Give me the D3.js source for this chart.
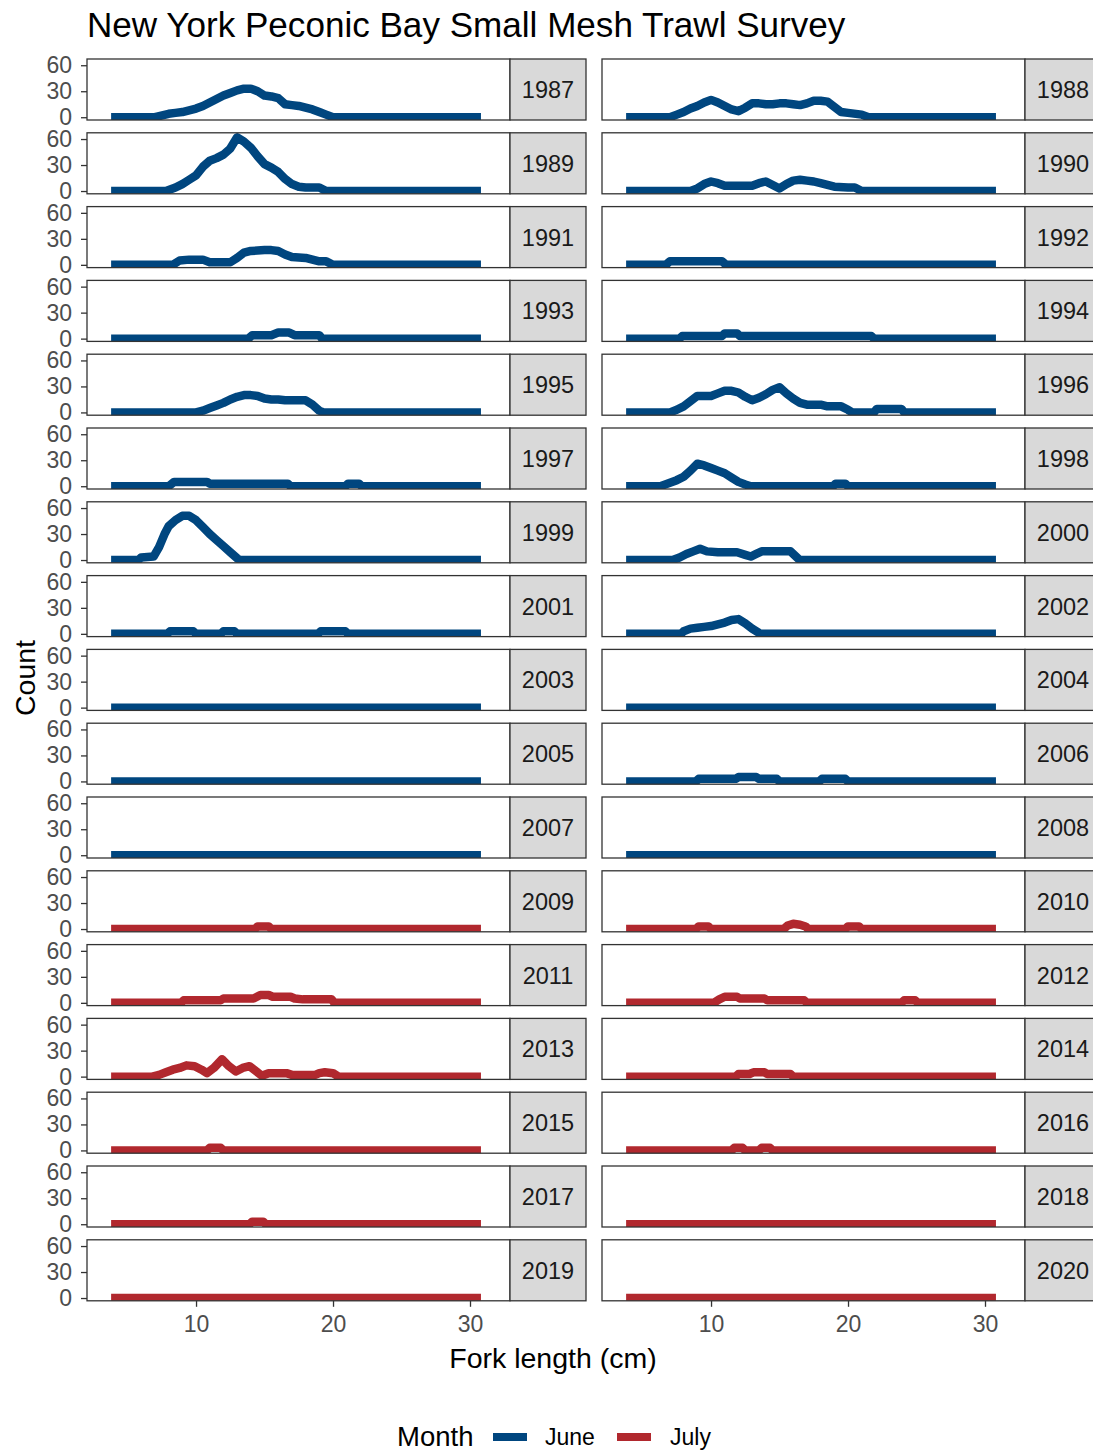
<!DOCTYPE html>
<html><head><meta charset="utf-8">
<script src="https://cdn.jsdelivr.net/npm/d3@7"></script>
<style>body{margin:0;background:#fff}svg{display:block}</style>
</head><body>
<svg id="chart" width="1093" height="1452"></svg>
<script>
// ---------- data ----------
const years = [1987,1988,1989,1990,1991,1992,1993,1994,1995,1996,1997,1998,1999,2000,2001,2002,2003,2004,2005,2006,2007,2008,2009,2010,2011,2012,2013,2014,2015,2016,2017,2018,2019,2020];
const yearMonth = ["June","June","June","June","June","June","June","June","June","June","June","June","June","June","June","June","June","June","June","June","June","June","July","July","July","July","July","July","July","July","July","July","July","July"];
const monthNames = ["June","July"];
const monthColors = ["#00467F","#B1282E"];
const xTickValues = [10,20,30];
const yTickValues = [0,30,60];

// [fork length (cm), count]
const c1987 = [[3.8,0],[7,0],[8,4],[8.5,5],[9,6],[9.5,8],[10,10],[10.5,13],[11,17],[11.5,21],[12,25],[12.5,28],[13,31],[13.5,33],[14,33],[14.5,30],[15,25],[15.5,24],[16,22],[16.5,15],[17,14],[17.5,13],[18,11],[18.5,9],[19,6],[19.5,3],[20,0],[30.8,0]];
const c1988 = [[3.8,0],[7,0],[7.5,3],[8,6],[8.5,10],[9,13],[9.5,17],[10,20],[10.5,17],[11,13],[11.5,9],[12,7],[12.5,11],[13,16],[13.5,16],[14,15],[14.5,15],[15,16],[15.5,16],[16,15],[16.5,14],[17,16],[17.5,19],[18,19],[18.5,18],[19,12],[19.5,6],[20,5],[21,3],[21.5,0],[30.8,0]];
const c1989 = [[3.8,0],[7.8,0],[8.5,4],[9,8],[9.5,13],[10,18],[10.5,28],[11,35],[11.5,38],[12,42],[12.5,49],[13,62],[13.5,57],[14,50],[14.5,40],[15,31],[15.5,27],[16,22],[16.5,14],[17,8],[17.5,5],[18,4],[19,4],[19.5,0],[30.8,0]];
const c1990 = [[3.8,0],[8.5,0],[9,3],[9.5,8],[10,11],[10.5,9],[11,6],[12,6],[13,6],[13.5,9],[14,11],[14.5,7],[15,3],[15.5,8],[16,12],[16.5,13],[17,12],[17.5,11],[18,9],[18.5,7],[19,5],[20,4],[20.5,4],[21,0],[30.8,0]];
const c1991 = [[3.8,0],[8.3,0],[8.8,5],[9.5,6],[10.5,6],[11,3],[12.5,3],[13,8],[13.5,14],[14,16],[15,17],[15.5,17],[16,16],[16.5,12],[17,9],[18,8],[18.5,6],[19,4],[19.5,4],[20,0],[30.8,0]];
const c1992 = [[3.8,0],[6.7,0],[7,4],[10.8,4],[11.1,0],[30.8,0]];
const c1993 = [[3.8,0],[13.8,0],[14.1,4],[15.5,4],[16,7],[16.8,7],[17.2,4],[19,4],[19.2,0],[30.8,0]];
const c1994 = [[3.8,0],[7.7,0],[7.9,3],[10.8,3],[11,6],[11.9,6],[12.1,3],[21.7,3],[21.9,0],[30.8,0]];
const c1995 = [[3.8,0],[10,0],[10.5,2],[11,5],[11.5,8],[12,11],[12.5,15],[13,18],[13.5,20],[14,20],[14.5,19],[15,16],[15.5,15],[16,15],[16.5,14],[17,14],[18,14],[18.5,9],[19,2],[19.3,0],[30.8,0]];
const c1996 = [[3.8,0],[7,0],[7.5,3],[8,7],[8.5,13],[9,19],[10,19],[10.5,22],[11,25],[11.5,25],[12,23],[12.5,18],[13,14],[13.5,17],[14,21],[14.5,26],[15,29],[15.5,22],[16,16],[16.5,11],[17,9],[18,9],[18.5,7],[19.5,7],[20,3],[20.3,0],[21.9,0],[22.1,4],[23.9,4],[24.1,0],[30.8,0]];
const c1997 = [[3.8,0],[8,0],[8.4,5],[10.8,5],[11,3],[16.7,3],[16.9,0],[20.9,0],[21.1,3],[21.9,3],[22.1,0],[30.8,0]];
const c1998 = [[3.8,0],[6.3,0],[7,4],[7.5,7],[8,11],[8.5,18],[9,26],[9.5,24],[10,21],[10.5,18],[11,15],[11.5,10],[12,5],[12.5,2],[12.9,0],[18.9,0],[19.1,3],[19.8,3],[20,0],[30.8,0]];
const c1999 = [[3.8,0],[5.8,0],[6,3],[6.9,4],[7.3,15],[7.7,30],[8,39],[8.5,46],[9,51],[9.5,51],[10,46],[10.5,38],[11,30],[11.5,23],[12,16],[12.5,9],[13,2],[13.2,0],[30.8,0]];
const c2000 = [[3.8,0],[7.2,0],[7.7,3],[8.2,7],[8.7,10],[9.2,13],[9.7,10],[10.5,9],[11.9,9],[12.5,6],[12.9,4],[13.3,7],[13.7,10],[15.8,10],[16.4,1],[16.5,0],[30.8,0]];
const c2001 = [[3.8,0],[7.9,0],[8.1,3],[9.8,3],[10,0],[11.8,0],[12,3],[12.8,3],[13,0],[18.9,0],[19.1,3],[20.9,3],[21.1,0],[30.8,0]];
const c2002 = [[3.8,0],[7.8,0],[8,3],[8.5,6],[9,7],[9.5,8],[10,9],[10.5,11],[11,13],[11.5,16],[12,17],[12.5,12],[13,6],[13.5,1],[13.7,0],[30.8,0]];
const c2003 = [[3.8,0],[30.8,0]];
const c2004 = [[3.8,0],[30.8,0]];
const c2005 = [[3.8,0],[30.8,0]];
const c2006 = [[3.8,0],[8.9,0],[9.1,3],[11.8,3],[12,5],[13.3,5],[13.5,3],[14.8,3],[15,0],[17.9,0],[18.1,3],[19.8,3],[20,0],[30.8,0]];
const c2007 = [[3.8,0],[30.8,0]];
const c2008 = [[3.8,0],[30.8,0]];
const c2009 = [[3.8,0],[14.3,0],[14.5,3],[15.3,3],[15.5,0],[30.8,0]];
const c2010 = [[3.8,0],[8.9,0],[9.1,3],[9.8,3],[10,0],[15.3,0],[15.6,4],[16,6],[16.5,5],[16.9,3],[17.1,0],[19.8,0],[20,3],[20.8,3],[21,0],[30.8,0]];
const c2011 = [[3.8,0],[8.9,0],[9.1,3],[11.8,3],[12,5],[14.2,5],[14.7,9],[15.3,9],[15.6,7],[16.9,7],[17.2,5],[17.8,4],[19.9,4],[20.1,0],[30.8,0]];
const c2012 = [[3.8,0],[10.2,0],[10.6,4],[11,7],[11.9,7],[12.1,5],[13.9,5],[14.1,3],[16.8,3],[17,0],[23.9,0],[24.1,3],[24.9,3],[25.1,0],[30.8,0]];
const c2013 = [[3.8,0],[6.8,0],[7.3,2],[7.8,5],[8.3,8],[8.8,10],[9.3,13],[9.9,12],[10.4,8],[10.8,4],[11.3,10],[11.9,20],[12.4,12],[12.9,6],[13.4,10],[13.9,12],[14.4,6],[14.8,1],[15.3,4],[16.6,4],[17,2],[18.7,2],[19,4],[19.4,5],[20,4],[20.4,0],[30.8,0]];
const c2014 = [[3.8,0],[11.8,0],[12,3],[12.8,3],[13.1,5],[13.9,5],[14.1,3],[15.8,3],[16,0],[30.8,0]];
const c2015 = [[3.8,0],[10.8,0],[11,3],[11.8,3],[12,0],[30.8,0]];
const c2016 = [[3.8,0],[11.5,0],[11.7,3],[12.3,3],[12.5,0],[13.5,0],[13.7,3],[14.3,3],[14.5,0],[30.8,0]];
const c2017 = [[3.8,0],[13.9,0],[14.1,3],[14.9,3],[15.1,0],[30.8,0]];
const c2018 = [[3.8,0],[30.8,0]];
const c2019 = [[3.8,0],[30.8,0]];
const c2020 = [[3.8,0],[30.8,0]];

const seriesList = [c1987,c1988,c1989,c1990,c1991,c1992,c1993,c1994,c1995,c1996,c1997,c1998,c1999,c2000,c2001,c2002,c2003,c2004,c2005,c2006,c2007,c2008,c2009,c2010,c2011,c2012,c2013,c2014,c2015,c2016,c2017,c2018,c2019,c2020];

// ---------- layout ----------
const FONT = "'Liberation Sans', Arial, sans-serif";
const svg = d3.select("#chart");
const colX = [87, 602];
const panelW = 423, stripW = 76, panelH = 61;
const rowTop0 = 59, rowPitch = 73.8;
const nRows = Math.ceil(years.length / 2);

const x = d3.scaleLinear().domain([2.04, 32.92]).range([0, panelW]);
const y = d3.scaleLinear().domain([-3.2, 67.2]).range([panelH, 0]);
const color = d3.scaleOrdinal().domain(monthNames).range(monthColors);
const line = d3.line().x(d => x(d[0])).y(d => y(d[1]));

svg.append("rect").attr("width",1093).attr("height",1452).attr("fill","#fff");

// title
svg.append("text").attr("x", 87).attr("y", 37)
  .attr("font-family", FONT).attr("font-size", 35.1).attr("fill", "#000")
  .text("New York Peconic Bay Small Mesh Trawl Survey");

const defs = svg.append("defs");

years.forEach((yr, i) => {
  const col = i % 2, row = Math.floor(i / 2);
  const px = colX[col], py = rowTop0 + row * rowPitch;
  const g = svg.append("g").attr("transform", `translate(${px},${py})`);
  const cid = "clip" + yr;
  defs.append("clipPath").attr("id", cid).append("rect")
    .attr("width", panelW).attr("height", panelH);
  g.append("rect").attr("width", panelW).attr("height", panelH).attr("fill", "#fff");
  g.append("g").attr("clip-path", `url(#${cid})`)
    .append("path").datum(seriesList[i])
    .attr("d", line).attr("fill", "none")
    .attr("stroke", color(yearMonth[i]))
    .attr("stroke-width", 8.5)
    .attr("stroke-linejoin", "round").attr("stroke-linecap", "butt");
  g.append("rect").attr("width", panelW).attr("height", panelH)
    .attr("fill", "none").attr("stroke", "#333").attr("stroke-width", 1.3);
  // strip
  const s = g.append("g").attr("transform", `translate(${panelW},0)`);
  s.append("rect").attr("width", stripW).attr("height", panelH)
    .attr("fill", "#D9D9D9").attr("stroke", "#333").attr("stroke-width", 1.3);
  s.append("text").attr("x", stripW/2).attr("y", panelH/2).attr("dy", "0.36em")
    .attr("text-anchor", "middle").attr("font-family", FONT).attr("font-size", 23.5)
    .attr("fill", "#1A1A1A").text(yr);
  // y axis on left column
  if (col === 0) {
    const ax = g.append("g").call(d3.axisLeft(y).tickValues(yTickValues).tickSize(6).tickPadding(9));
    ax.select(".domain").remove();
    ax.selectAll(".tick line").attr("stroke", "#333").attr("stroke-width", 1.3);
    ax.selectAll(".tick text").attr("font-family", FONT).attr("font-size", 23).attr("fill", "#4D4D4D");
  }
  // x axis on bottom row
  if (row === nRows - 1) {
    const ax = g.append("g").attr("transform", `translate(0,${panelH})`)
      .call(d3.axisBottom(x).tickValues(xTickValues).tickSize(6).tickPadding(9));
    ax.select(".domain").remove();
    ax.selectAll(".tick line").attr("stroke", "#333").attr("stroke-width", 1.3);
    ax.selectAll(".tick text").attr("font-family", FONT).attr("font-size", 23).attr("fill", "#4D4D4D");
  }
});

// axis titles
svg.append("text").attr("transform", "translate(25,678) rotate(-90)")
  .attr("text-anchor", "middle").attr("dy", "0.36em")
  .attr("font-family", FONT).attr("font-size", 28.5).attr("fill", "#000").text("Count");
svg.append("text").attr("x", 553).attr("y", 1358).attr("dy", "0.36em")
  .attr("text-anchor", "middle")
  .attr("font-family", FONT).attr("font-size", 28.5).attr("fill", "#000").text("Fork length (cm)");

// legend
const lg = svg.append("g");
lg.append("text").attr("x", 397).attr("y", 1436).attr("dy", "0.36em")
  .attr("font-family", FONT).attr("font-size", 27.5).attr("fill", "#000").text("Month");
const keyX = [493, 617], labX = [545, 670];
monthNames.forEach((m, k) => {
  lg.append("line").attr("x1", keyX[k]).attr("x2", keyX[k] + 34)
    .attr("y1", 1437).attr("y2", 1437)
    .attr("stroke", color(m)).attr("stroke-width", 8);
  lg.append("text").attr("x", labX[k]).attr("y", 1437).attr("dy", "0.36em")
    .attr("font-family", FONT).attr("font-size", 23).attr("fill", "#000").text(m);
});
</script>
</body></html>
